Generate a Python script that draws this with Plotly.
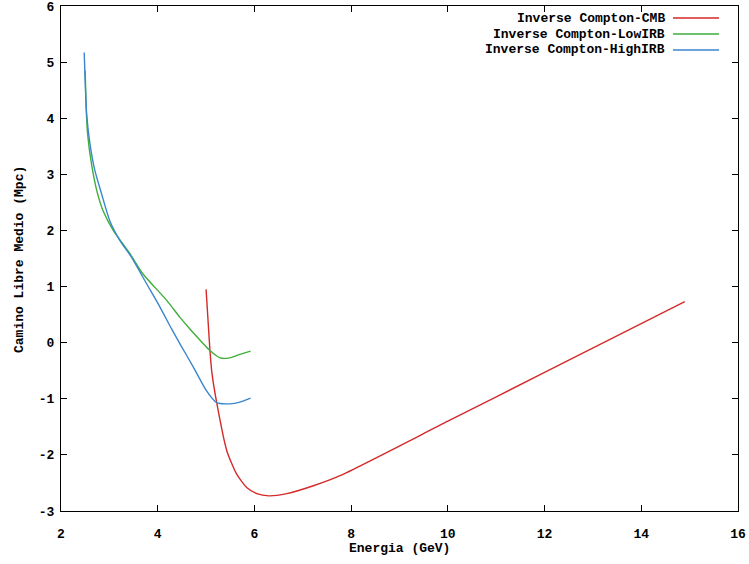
import plotly.graph_objects as go

# Data
cmb_x = [5.00, 5.08, 5.12, 5.22, 5.43, 5.63, 5.84, 6.05, 6.30, 6.67, 7.22, 7.77, 10.0, 12.0, 14.90]
cmb_y = [0.95, -0.14, -0.53, -1.07, -1.93, -2.34, -2.58, -2.69, -2.73, -2.69, -2.55, -2.37, -1.40, -0.53, 0.73]

low_x = [2.50, 2.52, 2.55, 2.63, 2.74, 2.87, 3.08, 3.43, 3.70, 4.19, 4.46, 4.67, 5.08, 5.29, 5.49, 5.70, 5.92]
low_y = [4.85, 4.19, 3.72, 3.19, 2.71, 2.35, 2.00, 1.58, 1.22, 0.75, 0.45, 0.24, -0.14, -0.27, -0.27, -0.21, -0.15]

high_x = [2.48, 2.53, 2.60, 2.70, 2.84, 3.01, 3.22, 3.46, 3.77, 4.05, 4.29, 4.46, 4.74, 5.01, 5.22, 5.49, 5.70, 5.92]
high_y = [5.17, 4.08, 3.54, 3.07, 2.65, 2.17, 1.82, 1.52, 1.05, 0.63, 0.24, -0.02, -0.44, -0.86, -1.07, -1.09, -1.06, -0.99]

series_names = ["Inverse Compton-CMB", "Inverse Compton-LowIRB", "Inverse Compton-HighIRB"]
colors = ["#d42a2a", "#3fae3a", "#3a86cf"]

x_ticks = [2, 4, 6, 8, 10, 12, 14, 16]
y_ticks = [-3, -2, -1, 0, 1, 2, 3, 4, 5, 6]

FONT = "Liberation Mono"
W, H = 749, 564
L, R, T, B = 61, 11, 6, 53
PW, PH = W - L - R, H - T - B

fig = go.Figure()
for xs, ys, name, c in zip([cmb_x, low_x, high_x], [cmb_y, low_y, high_y], series_names, colors):
    fig.add_trace(go.Scatter(x=xs, y=ys, mode="lines", name=name,
                             line=dict(color=c, width=1.4, shape="spline", smoothing=0.6),
                             showlegend=False))

# Legend emulation (text right-aligned, sample line to the right)
for i, (name, c) in enumerate(zip(series_names, colors)):
    ypix = 18 + 16 * i
    yp = 1 - (ypix - T) / PH
    fig.add_annotation(x=(667 - L) / PW, y=yp, xref="paper", yref="paper", text="<b>%s</b>" % name,
                       showarrow=False, xanchor="right", yanchor="middle",
                       font=dict(family=FONT, size=13, color="black"))
    fig.add_shape(type="line", xref="paper", yref="paper", x0=(673 - L) / PW, x1=(719 - L) / PW, y0=yp, y1=yp,
                  line=dict(color=c, width=1.4))

# Axis titles
fig.add_annotation(x=(399 - L) / PW, y=-(548 - T - PH) / PH, xref="paper", yref="paper",
                   text="<b>Energia (GeV)</b>", showarrow=False, xanchor="center", yanchor="middle",
                   font=dict(family=FONT, size=13, color="black"))
fig.add_annotation(x=-(L - 19) / PW, y=1 - (260 - T) / PH, xref="paper", yref="paper",
                   text="<b>Camino Libre Medio (Mpc)</b>", showarrow=False, xanchor="center", yanchor="middle",
                   textangle=-90, font=dict(family=FONT, size=13, color="black"))

axis_common = dict(showgrid=False, zeroline=False, showline=True, linecolor="black", linewidth=1,
                   mirror="ticks", ticks="inside", ticklen=6, tickcolor="black", automargin=False,
                   ticklabeloverflow="allow",
                   tickfont=dict(family=FONT, size=13, color="black"))

fig.update_layout(
    width=W, height=H,
    margin=dict(l=L, r=R, t=T, b=B, autoexpand=False),
    paper_bgcolor="white", plot_bgcolor="white",
    xaxis=dict(range=[2, 16], tickvals=x_ticks, ticktext=["<b>%d</b>" % v for v in x_ticks],
               ticklabelstandoff=10, **axis_common),
    yaxis=dict(range=[-3, 6], tickvals=y_ticks, ticktext=["<b>%d</b>" % v for v in y_ticks],
               ticklabelstandoff=3, **axis_common),
)

fig.write_html("out.html", config={"displayModeBar": False},
               post_script="document.body.style.margin='0';document.body.style.overflow='hidden';")
